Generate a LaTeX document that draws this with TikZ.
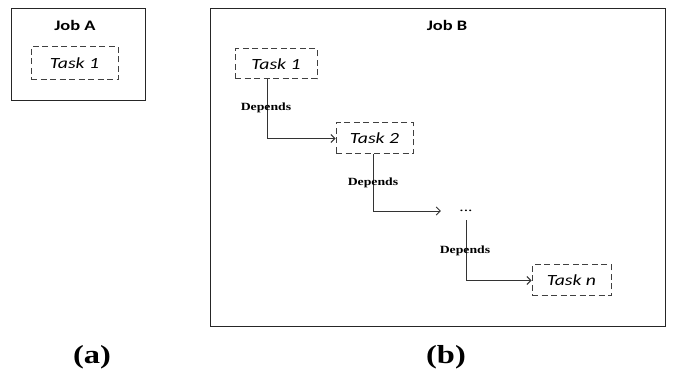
\documentclass[tikz,border=0pt]{standalone}
\usepackage{fontspec}
\newfontfamily\calfont[FakeStretch=1.27]{Carlito}
\newfontfamily\timesfont[FakeStretch=1.25]{Liberation Serif}
\usetikzlibrary{arrows.meta}
\begin{document}
\begin{tikzpicture}[x=1pt,y=-1pt,
  jobbox/.style={draw=black!85, line width=1pt, inner sep=0pt},
  jobtitle/.style={font=\calfont\bfseries\fontsize{14.5}{17}\selectfont, inner sep=0pt},
  taskbox/.style={draw=black!75, dash pattern=on 6pt off 3.5pt, line width=1pt, inner sep=0pt,
    font=\calfont\itshape\fontsize{15.5}{18}\selectfont},
  conn/.style={draw=black!80, line width=0.9pt, -{Straight Barb[length=4pt,width=8pt]}},
  deplabel/.style={font=\timesfont\bfseries\fontsize{11}{13}\selectfont, inner sep=0pt},
  caption/.style={font=\timesfont\bfseries\fontsize{26}{30}\selectfont, inner sep=0pt}]
\useasboundingbox (0,0) rectangle (673,385);
% Job A
\node[jobbox, minimum width=134pt, minimum height=92pt] (jobA) at (78,55) {};
\node[jobtitle] (jobAt) at (75,25) {Job A};
\node[taskbox, minimum width=87pt, minimum height=33pt] (ta) at (74.5,63.5) {Task 1};
% Job B
\node[jobbox, minimum width=455pt, minimum height=317pt] (jobB) at (437.5,167.5) {};
\node[jobtitle] (jobBt) at (447,25) {Job B};
\node[taskbox, minimum width=82pt, minimum height=30pt] (t1) at (276,64) {Task 1};
\node[taskbox, minimum width=77pt, minimum height=31pt] (t2) at (374.5,138.5) {Task 2};
\node[inner sep=0pt, minimum width=50pt, minimum height=18pt, font=\timesfont\fontsize{14}{16}\selectfont] (dots) at (466,211) {...};
\node[taskbox, minimum width=79pt, minimum height=31pt] (tn) at (571.5,280.5) {Task n};
\draw[conn] ([xshift=-9pt]t1.south) |- (t2.west);
\draw[conn] ([xshift=-1.5pt]t2.south) |- (dots.west);
\draw[conn] (dots.south) |- (tn.west);
\node[deplabel] (d1) at (266,108) {Depends};
\node[deplabel] (d2) at (373,183) {Depends};
\node[deplabel] (d3) at (465,251) {Depends};
% captions
\node[caption] (ca) at (92,357) {(a)};
\node[caption] (cb) at (446,357) {(b)};
\end{tikzpicture}
\end{document}
